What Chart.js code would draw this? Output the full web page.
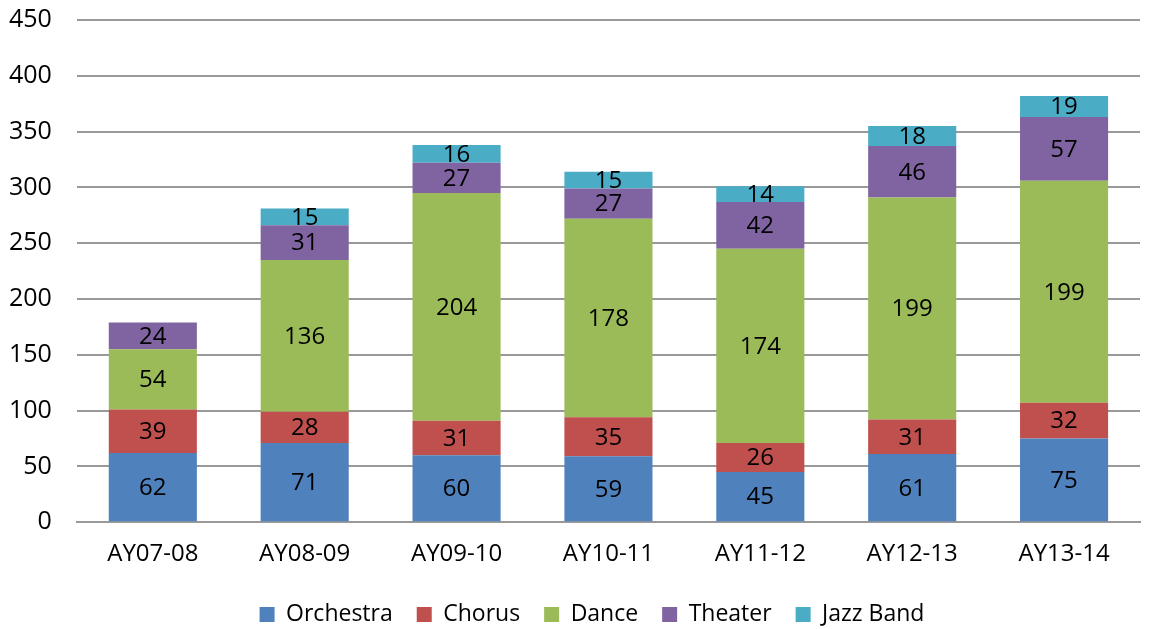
<!DOCTYPE html>
<html>
<head>
<meta charset="utf-8">
<script src="https://cdn.jsdelivr.net/npm/chart.js@4/dist/chart.umd.min.js"></script>
<style>
  html, body { margin: 0; padding: 0; background: #fff; }
  #wrap { width: 1151px; height: 629px; position: relative; }
</style>
</head>
<body>
<div id="wrap"><canvas id="chart"></canvas></div>
<script>
// ── Data ──────────────────────────────────────────────────────
const years     = ['AY07-08', 'AY08-09', 'AY09-10', 'AY10-11', 'AY11-12', 'AY12-13', 'AY13-14'];
const orchestra = [62, 71, 60, 59, 45, 61, 75];
const chorus    = [39, 28, 31, 35, 26, 31, 32];
const dance     = [54, 136, 204, 178, 174, 199, 199];
const theater   = [24, 31, 27, 27, 42, 46, 57];
const jazzBand  = [null, 15, 16, 15, 14, 18, 19];
const yTicks    = [0, 50, 100, 150, 200, 250, 300, 350, 400, 450];

const FONT = '"Open Sans", sans-serif';

// ── Inline value labels (centre of each segment) ──────────────
const segmentLabels = {
    id: 'segmentLabels',
    afterLayout(chart) {
        // legend sits a little right of centre in the original
        chart.legend.left  += 30;
        chart.legend.right += 30;
    },
    afterDatasetsDraw(chart) {
        const ctx = chart.ctx;
        ctx.save();
        ctx.font = '24px ' + FONT;
        ctx.fillStyle = '#000';
        ctx.textAlign = 'center';
        ctx.textBaseline = 'middle';
        chart.data.datasets.forEach((ds, i) => {
            chart.getDatasetMeta(i).data.forEach((bar, j) => {
                const v = ds.data[j];
                if (v == null) return;
                const p = bar.getProps(['x', 'y', 'base'], true);
                ctx.fillText(String(v), p.x, (p.y + p.base) / 2 + 1);
            });
        });
        ctx.restore();
    }
};

function series(label, data, color) {
    return { label, data, backgroundColor: color, borderWidth: 0,
             barPercentage: 0.58, categoryPercentage: 1.0 };
}

new Chart(document.getElementById('chart'), {
    type: 'bar',
    data: {
        labels: years,
        datasets: [
            series('Orchestra', orchestra, '#4F81BD'),
            series('Chorus',    chorus,    '#C0504D'),
            series('Dance',     dance,     '#9BBB59'),
            series('Theater',   theater,   '#8064A2'),
            series('Jazz Band', jazzBand,  '#4BACC6')
        ]
    },
    options: {
        responsive: true,
        maintainAspectRatio: false,
        animation: false,
        layout: { padding: { top: 20, right: 11, left: -16, bottom: -7 } },
        plugins: {
            legend: {
                position: 'bottom',
                labels: {
                    boxWidth: 15, boxHeight: 15, padding: 24,
                    color: '#000', font: { family: FONT, size: 23, lineHeight: 1 }
                }
            },
            tooltip: { enabled: false }
        },
        scales: {
            x: {
                stacked: true,
                grid: { display: false, drawTicks: false },
                border: { color: '#999', width: 2 },
                ticks: { color: '#000', padding: 18, font: { family: FONT, size: 24 } },
                afterFit: axis => { axis.paddingLeft = 0; axis.paddingRight = 0; axis.height -= 8; }
            },
            y: {
                stacked: true,
                min: 0, max: 450,
                afterBuildTicks: axis => { axis.ticks = yTicks.map(v => ({ value: v })); },
                grid: { color: '#999', lineWidth: 2, drawTicks: false },
                border: { display: false },
                ticks: { color: '#000', padding: 25, font: { family: FONT, size: 25 } },
                afterFit: axis => { axis.paddingTop = 0; axis.paddingBottom = 0; }
            }
        }
    },
    plugins: [segmentLabels]
});
</script>
</body>
</html>
